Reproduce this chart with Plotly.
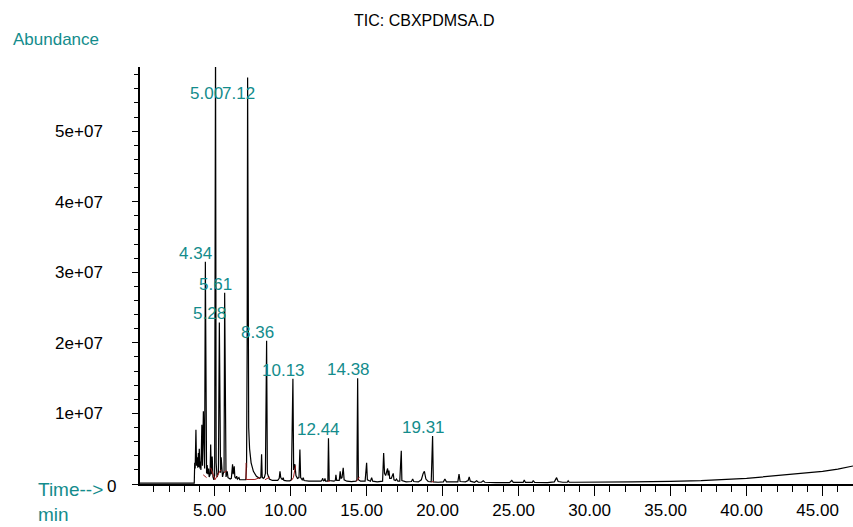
import plotly.graph_objects as go

# ---- TIC trace vertices (time in min, abundance in counts) ----
time_min = [
    0.09, 3.66, 3.69, 3.72, 3.77, 3.81, 3.86, 3.89, 3.93, 3.96, 3.99, 4.03, 4.07, 4.10,
    4.16, 4.20, 4.26, 4.30, 4.34, 4.39, 4.43, 4.47, 4.51, 4.55, 4.60, 4.64, 4.70, 4.74,
    4.78, 4.84, 4.89, 4.95, 5.00, 5.06, 5.10, 5.16, 5.21, 5.25, 5.31, 5.35, 5.39, 5.43,
    5.47, 5.52, 5.56, 5.62, 5.66, 5.70, 5.75, 5.83, 5.88, 5.95, 6.02, 6.10, 6.18, 6.22,
    6.29, 6.33, 6.40, 6.45, 6.50, 6.60, 6.65, 6.80, 6.95, 7.05, 7.10, 7.14, 7.17, 7.20,
    7.24, 7.30, 7.40, 7.55, 7.75, 7.95, 8.04, 8.09, 8.13, 8.20, 8.27, 8.34, 8.42, 8.47,
    8.53, 8.60, 8.80, 9.15, 9.25, 9.30, 9.35, 9.45, 9.51, 9.56, 9.75, 9.95, 10.05, 10.15,
    10.20, 10.28, 10.35, 10.45, 10.55, 10.61, 10.66, 10.76, 10.83, 10.88, 11.20, 11.60,
    12.00, 12.06, 12.11, 12.16, 12.22, 12.26, 12.30, 12.45, 12.49, 12.54, 12.85, 12.94,
    12.98, 13.03, 13.20, 13.26, 13.31, 13.38, 13.46, 13.52, 13.70, 14.00, 14.30, 14.36,
    14.41, 14.46, 14.60, 14.90, 15.00, 15.05, 15.25, 15.33, 15.40, 15.70, 16.05, 16.12,
    16.18, 16.25, 16.38, 16.42, 16.47, 16.52, 16.62, 16.75, 16.80, 16.90, 16.97, 17.05,
    17.18, 17.28, 17.32, 17.60, 17.95, 18.03, 18.10, 18.40, 18.60, 18.72, 18.80, 18.90,
    19.05, 19.25, 19.34, 19.39, 19.70, 20.05, 20.15, 20.25, 20.70, 21.00, 21.08, 21.15,
    21.50, 21.68, 21.75, 21.82, 22.10, 22.24, 22.35, 22.55, 22.67, 22.78, 23.50, 24.40,
    24.55, 24.65, 25.30, 25.37, 25.45, 25.90, 25.96, 26.05, 26.90, 27.35, 27.50, 27.60,
    27.90, 28.20, 28.26, 28.33, 28.70, 29.15, 29.21, 29.30, 30.00, 32.50, 35.00, 37.00,
    40.00, 42.40, 45.00, 46.00, 47.00,
]
abundance = [
    0.12e6, 0.12e6, 3.0e6, 2.2e6, 7.7e6, 2.6e6, 3.8e6, 2.3e6, 4.4e6, 2.4e6, 5.0e6, 2.2e6, 3.2e6, 2.0e6,
    8.4e6, 2.6e6, 10.3e6, 3.0e6, 2.2e6, 31.5e6, 2.2e6, 1.5e6, 2.7e6, 1.4e6, 2.2e6, 1.0e6, 1.3e6, 5.6e6,
    1.4e6, 3.9e6, 1.0e6, 0.6e6, 1.2e6, 63.0e6, 3.0e6, 1.0e6, 1.3e6, 1.6e6, 22.9e6, 2.5e6, 1.6e6, 3.8e6,
    1.5e6, 1.0e6, 1.4e6, 1.8e6, 27.1e6, 2.0e6, 1.0e6, 1.8e6, 0.9e6, 0.8e6, 0.7e6, 0.8e6, 2.8e6, 1.4e6,
    2.5e6, 1.0e6, 0.8e6, 1.1e6, 0.7e6, 0.9e6, 0.6e6, 0.6e6, 0.55e6, 0.6e6, 2.5e6, 20.0e6, 57.6e6, 15.0e6,
    8.0e6, 5.0e6, 3.0e6, 1.8e6, 1.1e6, 0.8e6, 0.9e6, 4.2e6, 1.0e6, 0.8e6, 0.9e6, 1.5e6, 20.3e6, 1.5e6,
    0.9e6, 0.7e6, 0.5e6, 0.5e6, 0.8e6, 1.8e6, 0.9e6, 0.6e6, 0.9e6, 0.5e6, 0.45e6, 0.45e6, 0.6e6, 14.9e6,
    2.0e6, 2.8e6, 1.2e6, 0.8e6, 0.9e6, 4.9e6, 0.9e6, 0.6e6, 0.9e6, 0.5e6, 0.4e6, 0.35e6,
    0.4e6, 0.55e6, 0.8e6, 0.45e6, 0.5e6, 0.8e6, 0.4e6, 0.4e6, 6.5e6, 0.5e6, 0.4e6, 0.5e6,
    1.3e6, 0.5e6, 0.5e6, 1.8e6, 0.8e6, 0.9e6, 2.3e6, 0.6e6, 0.4e6, 0.35e6, 0.4e6, 0.6e6,
    15.0e6, 0.6e6, 0.4e6, 0.4e6, 3.0e6, 0.6e6, 0.4e6, 0.9e6, 0.4e6, 0.3e6, 0.4e6, 4.4e6,
    1.5e6, 1.2e6, 2.2e6, 1.2e6, 1.9e6, 0.8e6, 0.8e6, 1.5e6, 0.6e6, 0.5e6, 0.7e6, 0.4e6,
    0.4e6, 4.7e6, 0.5e6, 0.3e6, 0.35e6, 0.7e6, 0.35e6, 0.3e6, 0.6e6, 1.5e6, 1.8e6, 0.7e6,
    0.35e6, 0.3e6, 6.8e6, 0.3e6, 0.25e6, 0.3e6, 0.7e6, 0.3e6, 0.25e6, 0.3e6, 1.4e6, 0.35e6,
    0.3e6, 0.5e6, 1.0e6, 0.4e6, 0.25e6, 0.45e6, 0.25e6, 0.25e6, 0.45e6, 0.25e6, 0.2e6, 0.2e6,
    0.5e6, 0.22e6, 0.22e6, 0.55e6, 0.22e6, 0.22e6, 0.5e6, 0.22e6, 0.2e6, 0.3e6, 0.9e6, 0.35e6,
    0.25e6, 0.25e6, 0.45e6, 0.25e6, 0.25e6, 0.25e6, 0.35e6, 0.25e6, 0.25e6, 0.3e6, 0.38e6, 0.47e6,
    0.8e6, 1.25e6, 1.78e6, 2.1e6, 2.55e6,
]

# ---- integration baselines (red), None separates segments ----
base_time = [4.25, 4.47, None, 4.74, 5.02, 5.40, None, 5.62, 5.80, None,
             7.07, 7.07, 7.65, 7.98, None, 8.31, 8.64, None, 10.05, 10.18, 10.33, None,
             12.44, 12.58, None, 14.34, 14.52, None, 19.28, 19.42]
base_abund = [1.3e6, 0.9e6, None, 2.3e6, 0.6e6, 2.0e6, None, 1.6e6, 1.9e6, None,
              3.0e6, 0.64e6, 0.64e6, 0.9e6, None, 0.6e6, 1.0e6, None, 0.5e6, 0.9e6, 2.6e6, None,
              0.4e6, 0.4e6, None, 0.4e6, 1.0e6, None, 0.3e6, 0.35e6]

# ---- labelled peaks ----
peak_labels = ["4.34", "5.00", "5.28", "5.61", "7.12", "8.36", "10.13", "12.44", "14.38", "19.31"]
peak_time = [4.39, 5.06, 5.31, 5.66, 7.17, 8.42, 10.15, 12.49, 14.41, 19.34]
peak_abund = [31.5e6, 63.0e6, 22.9e6, 27.1e6, 57.6e6, 20.3e6, 14.9e6, 6.5e6, 15.0e6, 6.8e6]
label_cap = 54.1e6  # labels of peaks running off the top are held at this level

y_tickvals = [0, 1e7, 2e7, 3e7, 4e7, 5e7]
y_ticktext = ["", "1e+07", "2e+07", "3e+07", "4e+07", "5e+07"]

TEAL = "#138c8c"
FONT = "Liberation Sans, Arial, Helvetica, sans-serif"

fig = go.Figure()
fig.add_trace(go.Scatter(x=time_min, y=abundance, mode="lines",
                         line=dict(color="black", width=1.2), hoverinfo="skip"))
fig.add_trace(go.Scatter(x=base_time, y=base_abund, mode="lines", connectgaps=False,
                         line=dict(color="#a01c1c", width=1), hoverinfo="skip"))

annotations = []
for txt, t, a in zip(peak_labels, peak_time, peak_abund):
    annotations.append(dict(x=t, y=min(a, label_cap), xref="x", yref="y", text=txt,
                            showarrow=False, xanchor="center", yanchor="bottom",
                            xshift=-9.5, yshift=-3,
                            font=dict(family=FONT, size=17, color=TEAL)))

annotations += [
    dict(x=0, y=0, xref="paper", yref="y", text="0", showarrow=False,
         xanchor="right", yanchor="middle", xshift=-22, yshift=-2,
         font=dict(family=FONT, size=17, color="black")),
    dict(x=0, y=1, xref="paper", yref="paper", text="Abundance", showarrow=False,
         xanchor="left", yanchor="middle", xshift=-129, yshift=28,
         font=dict(family=FONT, size=17, color=TEAL)),
    dict(x=0, y=0, xref="paper", yref="paper", text="Time--><br>min", showarrow=False,
         xanchor="left", yanchor="bottom", align="left", xshift=-104, yshift=-43,
         font=dict(family=FONT, size=19, color=TEAL)),
    dict(x=0.399, y=1, xref="paper", yref="paper", text="TIC: CBXPDMSA.D", showarrow=False,
         xanchor="center", yanchor="middle", yshift=47,
         font=dict(family=FONT, size=16, color="black")),
]

fig.update_layout(
    width=853, height=527,
    margin=dict(l=140, r=0, t=67, b=43),
    paper_bgcolor="white", plot_bgcolor="white",
    showlegend=False,
    annotations=annotations,
    font=dict(family=FONT, size=17, color="black"),
)
fig.update_xaxes(
    range=[0.09, 47.0], showgrid=False, zeroline=False,
    showline=True, linecolor="black", linewidth=1.5,
    ticks="outside", ticklen=10, tickwidth=1, tickcolor="black",
    tick0=0, dtick=5, tickformat=".2f", ticklabelshift=-5,
    tickfont=dict(family=FONT, size=17, color="black"),
    minor=dict(ticks="outside", ticklen=6, tickwidth=1, tickcolor="black", dtick=1, tick0=0),
)
fig.update_yaxes(
    range=[0, 5.91e7], showgrid=False, zeroline=False,
    showline=True, linecolor="black", linewidth=1.5,
    ticks="outside", ticklen=6, tickwidth=1, tickcolor="black",
    tickvals=y_tickvals, ticktext=y_ticktext, ticklabelstandoff=26,
    tickfont=dict(family=FONT, size=17, color="black"),
    minor=dict(ticks="outside", ticklen=4, tickwidth=1, tickcolor="black",
               tickvals=[v * 1e6 for v in range(2, 59, 2)]),
)

fig.write_html("out.html")
